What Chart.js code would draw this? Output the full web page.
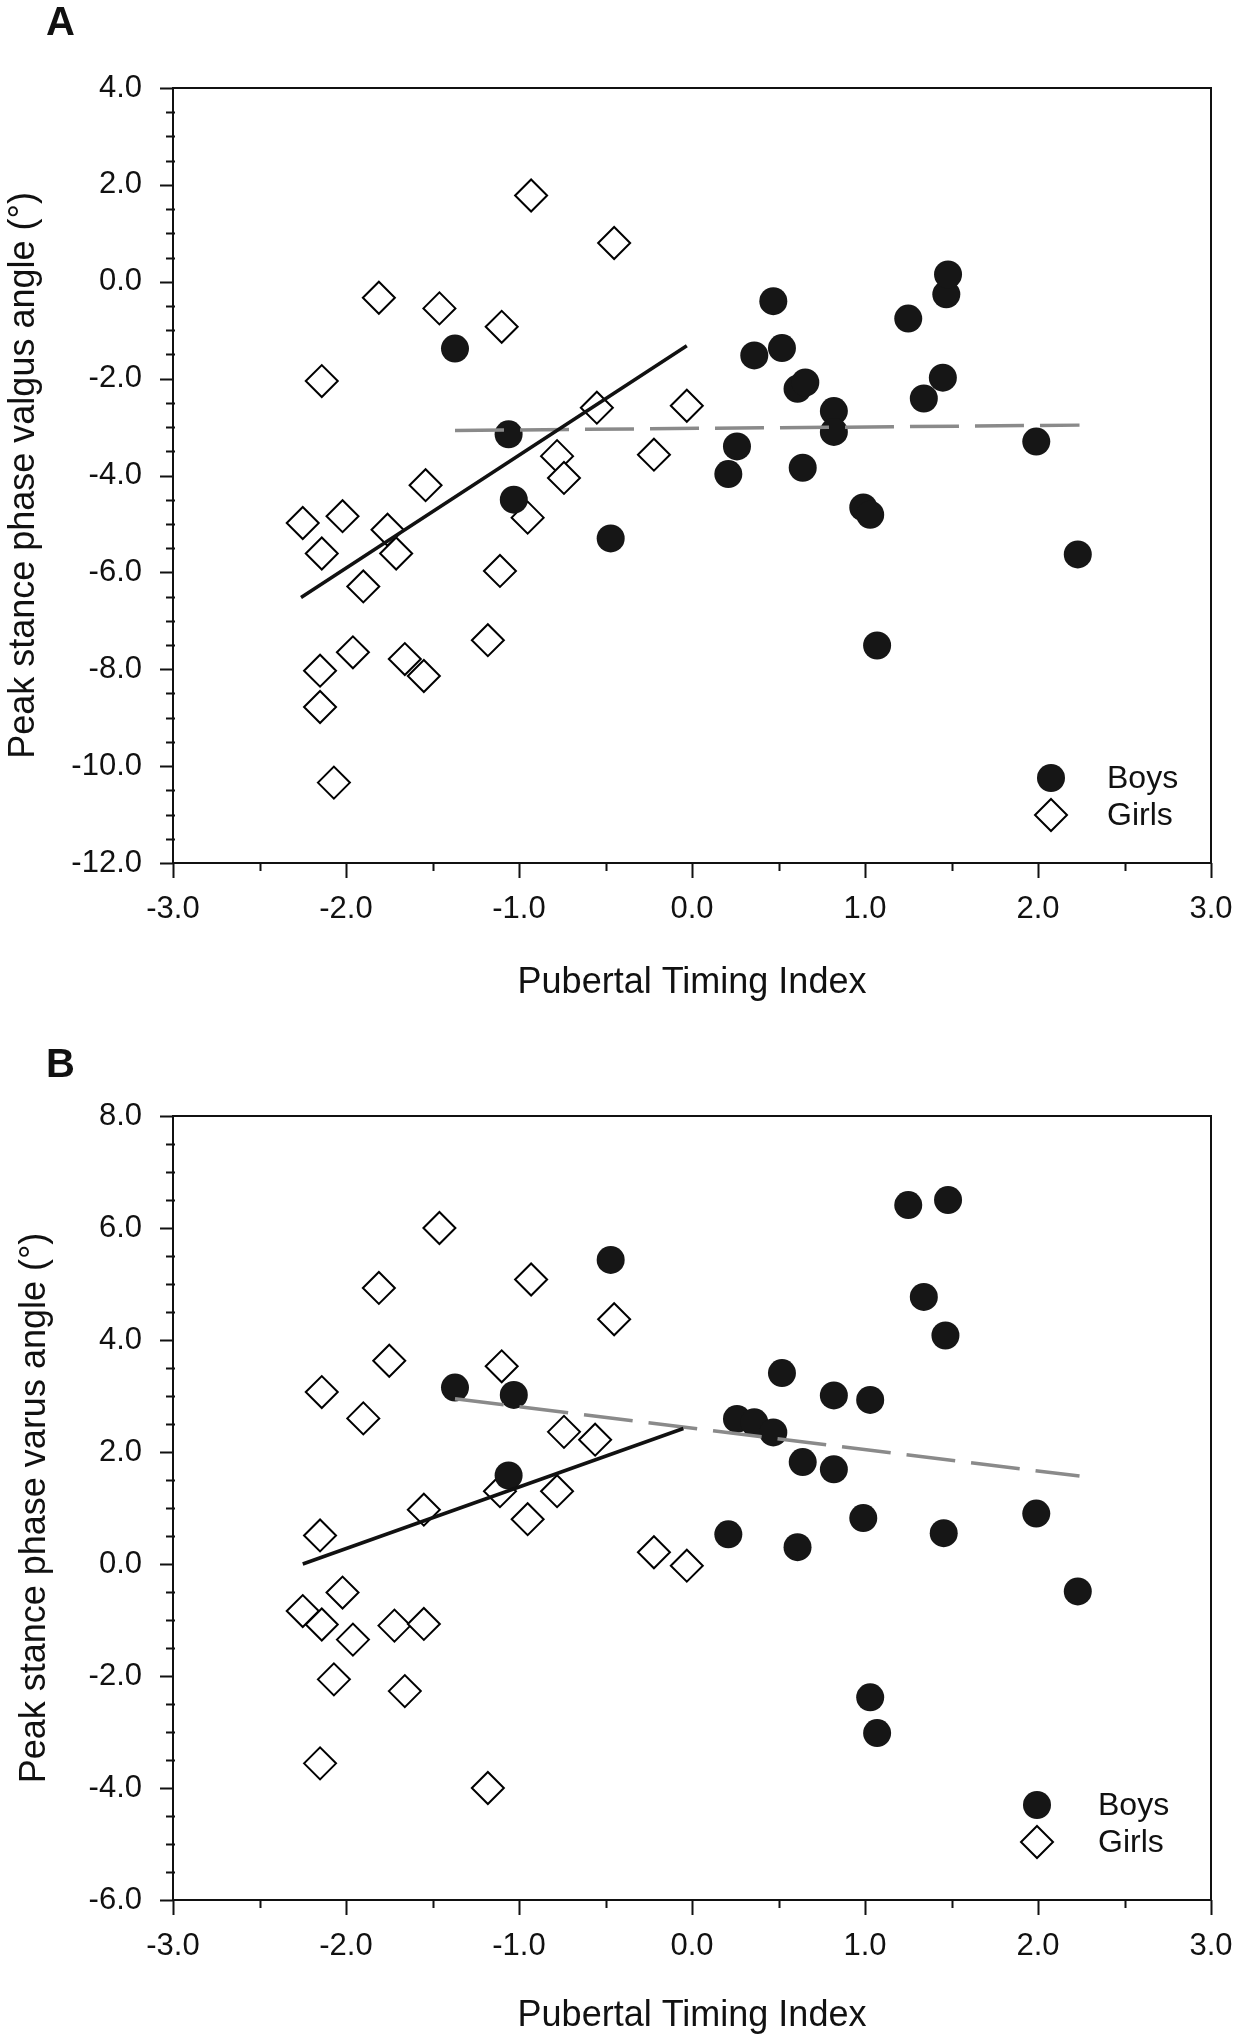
<!DOCTYPE html>
<html>
<head>
<meta charset="utf-8">
<script src="https://cdn.jsdelivr.net/npm/chart.js@4.4.1/dist/chart.umd.min.js"></script>
<style>
  html, body { margin: 0; padding: 0; background: #fff; }
  #wrap { position: relative; width: 1238px; height: 2040px; }
  canvas { position: absolute; left: 0; }
  .panel { position: absolute; font: bold 40px "Liberation Sans", Arial, sans-serif; color: #111; }
</style>
</head>
<body>
<div id="wrap">
  <canvas id="chartA" width="1238" height="1020" style="top:0"></canvas>
  <canvas id="chartB" width="1238" height="1020" style="top:1020px"></canvas>
  <div class="panel" style="left:46px;top:-1px">A</div>
  <div class="panel" style="left:46px;top:1041px">B</div>
</div>
<script>
// Panel A - valgus angle vs pubertal timing index
const boysValgus = [
  {x: -1.37, y: -1.38}, {x: -1.06, y: -3.15}, {x: -1.03, y: -4.50}, {x: -0.47, y: -5.30},
  {x: 0.21, y: -3.97}, {x: 0.26, y: -3.40}, {x: 0.36, y: -1.52}, {x: 0.47, y: -0.40},
  {x: 0.52, y: -1.37}, {x: 0.61, y: -2.21}, {x: 0.655, y: -2.08}, {x: 0.64, y: -3.84},
  {x: 0.82, y: -2.67}, {x: 0.82, y: -3.10}, {x: 0.99, y: -4.66}, {x: 1.03, y: -4.81},
  {x: 1.07, y: -7.51}, {x: 1.25, y: -0.76}, {x: 1.34, y: -2.41}, {x: 1.45, y: -1.98},
  {x: 1.47, y: -0.26}, {x: 1.48, y: 0.15}, {x: 1.99, y: -3.30}, {x: 2.23, y: -5.63}
];
const girlsValgus = [
  {x: -2.25, y: -4.98}, {x: -2.14, y: -2.05}, {x: -2.15, y: -8.03}, {x: -2.15, y: -8.78},
  {x: -2.14, y: -5.61}, {x: -2.07, y: -10.34}, {x: -2.02, y: -4.84}, {x: -1.96, y: -7.65},
  {x: -1.90, y: -6.29}, {x: -1.81, y: -0.33}, {x: -1.76, y: -5.12}, {x: -1.71, y: -5.61},
  {x: -1.66, y: -7.79}, {x: -1.55, y: -8.14}, {x: -1.54, y: -4.20}, {x: -1.46, y: -0.55},
  {x: -1.18, y: -7.40}, {x: -1.11, y: -5.97}, {x: -1.10, y: -0.93}, {x: -0.95, y: -4.87},
  {x: -0.93, y: 1.78}, {x: -0.78, y: -3.60}, {x: -0.74, y: -4.05}, {x: -0.55, y: -2.60},
  {x: -0.45, y: 0.80}, {x: -0.22, y: -3.57}, {x: -0.03, y: -2.56}
];
const girlsFitValgus = [{x: -2.26, y: -6.52}, {x: -0.03, y: -1.32}];
const boysFitValgus = [{x: -1.37, y: -3.07}, {x: 2.24, y: -2.96}];

// Panel B - varus angle vs pubertal timing index
const boysVarus = [
  {x: -1.37, y: 3.15}, {x: -1.06, y: 1.58}, {x: -1.03, y: 3.02}, {x: -0.47, y: 5.43},
  {x: 0.21, y: 0.53}, {x: 0.26, y: 2.59}, {x: 0.36, y: 2.53}, {x: 0.47, y: 2.35},
  {x: 0.52, y: 3.41}, {x: 0.61, y: 0.30}, {x: 0.64, y: 1.82}, {x: 0.82, y: 3.01},
  {x: 0.82, y: 1.69}, {x: 0.99, y: 0.82}, {x: 1.03, y: 2.93}, {x: 1.03, y: -2.38},
  {x: 1.07, y: -3.02}, {x: 1.25, y: 6.41}, {x: 1.34, y: 4.77}, {x: 1.455, y: 0.55},
  {x: 1.465, y: 4.08}, {x: 1.48, y: 6.50}, {x: 1.99, y: 0.90}, {x: 2.23, y: -0.49}
];
const girlsVarus = [
  {x: -2.25, y: -0.84}, {x: -2.14, y: 3.07}, {x: -2.15, y: 0.51}, {x: -2.14, y: -1.08},
  {x: -2.15, y: -3.56}, {x: -2.07, y: -2.06}, {x: -2.02, y: -0.51}, {x: -1.96, y: -1.35},
  {x: -1.90, y: 2.60}, {x: -1.81, y: 4.93}, {x: -1.75, y: 3.63}, {x: -1.72, y: -1.10},
  {x: -1.66, y: -2.27}, {x: -1.55, y: 0.97}, {x: -1.55, y: -1.07}, {x: -1.46, y: 6.00},
  {x: -1.18, y: -4.00}, {x: -1.11, y: 1.30}, {x: -1.10, y: 3.53}, {x: -0.95, y: 0.80},
  {x: -0.93, y: 5.08}, {x: -0.78, y: 1.30}, {x: -0.74, y: 2.36}, {x: -0.56, y: 2.22},
  {x: -0.45, y: 4.37}, {x: -0.22, y: 0.21}, {x: -0.03, y: -0.03}
];
const girlsFitVarus = [{x: -2.25, y: 0.00}, {x: -0.05, y: 2.42}];
const boysFitVarus = [{x: -1.37, y: 2.95}, {x: 2.24, y: 1.57}];

const xRange = [-3, 3];
const yRangeA = [-12, 4];
const yRangeB = [-6, 8];
const legendLabels = ['Boys', 'Girls'];

const FONT = '"Liberation Sans", Arial, sans-serif';
const INK = '#111';
const DOT = '#161616';

// frame, major/minor tick marks and the in-plot legend
const frameTicks = {
  id: 'frameTicks',
  beforeDatasetsDraw(chart, args, opts) {
    const {ctx, chartArea: a, scales: {x, y}} = chart;
    ctx.save();
    ctx.strokeStyle = INK;
    ctx.lineWidth = 2;
    ctx.beginPath();
    ctx.rect(a.left, a.top, a.right - a.left, a.bottom - a.top);
    ctx.stroke();

    ctx.beginPath();
    const ny = Math.round((y.max - y.min) / 0.5);
    for (let i = 0; i <= ny; i++) {
      const v = y.min + i * 0.5;
      const py = Math.round(y.getPixelForValue(v)) + 0.5;
      const major = i % 4 === 0;
      ctx.moveTo(a.left - (major ? 13 : 7), py);
      ctx.lineTo(a.left + (major ? 0 : 2), py);
    }
    const nx = Math.round((x.max - x.min) / 0.5);
    for (let i = 0; i <= nx; i++) {
      const v = x.min + i * 0.5;
      const px = Math.round(x.getPixelForValue(v)) + 0.5;
      const major = i % 2 === 0;
      ctx.moveTo(px, a.bottom);
      ctx.lineTo(px, a.bottom + (major ? 15 : 8));
    }
    ctx.stroke();
    ctx.restore();
  },
  afterDraw(chart, args, opts) {
    const {ctx, chartArea: a} = chart;
    const cx = a.right - opts.dx;
    const y1 = a.bottom - opts.dy;
    const y2 = y1 + 37;
    ctx.save();
    ctx.fillStyle = DOT;
    ctx.beginPath();
    ctx.arc(cx, y1, 14, 0, Math.PI * 2);
    ctx.fill();
    ctx.beginPath();
    ctx.moveTo(cx, y2 - 16);
    ctx.lineTo(cx + 16, y2);
    ctx.lineTo(cx, y2 + 16);
    ctx.lineTo(cx - 16, y2);
    ctx.closePath();
    ctx.fillStyle = '#fff';
    ctx.fill();
    ctx.strokeStyle = '#000';
    ctx.lineWidth = 2;
    ctx.stroke();
    ctx.fillStyle = INK;
    ctx.font = '32px ' + FONT;
    ctx.textAlign = 'left';
    ctx.textBaseline = 'middle';
    ctx.fillText(legendLabels[0], a.right - opts.tx, y1 + 1);
    ctx.fillText(legendLabels[1], a.right - opts.tx, y2 + 1);
    ctx.restore();
  }
};

function makeChart(canvasId, cfg) {
  const ctx = document.getElementById(canvasId).getContext('2d');
  return new Chart(ctx, {
    type: 'scatter',
    data: {
      datasets: [
        {
          data: cfg.girlsFit, showLine: true, pointRadius: 0,
          borderColor: '#111', borderWidth: 3.5, order: 0, clip: false
        },
        {
          data: cfg.boysFit, showLine: true, pointRadius: 0,
          borderColor: '#8a8a8a', borderWidth: 3.5, borderDash: [49, 16], order: 1, clip: false
        },
        {
          label: 'Girls', data: cfg.girls, pointStyle: 'rectRot', pointRadius: 16,
          backgroundColor: '#fff', borderColor: '#000', borderWidth: 2, order: 3, clip: false
        },
        {
          label: 'Boys', data: cfg.boys, pointStyle: 'circle', pointRadius: 14,
          backgroundColor: DOT, borderColor: DOT, borderWidth: 0, order: 2, clip: false
        }
      ]
    },
    options: {
      responsive: false,
      animation: false,
      events: [],
      layout: { padding: { left: 0, right: 27, top: cfg.top, bottom: 0 } },
      plugins: {
        legend: { display: false },
        tooltip: { enabled: false },
        frameTicks: cfg.legend
      },
      scales: {
        x: {
          type: 'linear', min: xRange[0], max: xRange[1],
          afterFit: (s) => { s.height = cfg.xHeight; s.paddingLeft = 0; s.paddingRight = 0; },
          grid: { display: false, drawTicks: false },
          border: { display: false },
          ticks: {
            stepSize: 1, padding: 28, color: INK,
            font: { family: FONT, size: 31 },
            callback: (v) => v.toFixed(1)
          },
          title: {
            display: true, text: 'Pubertal Timing Index', color: INK,
            font: { family: FONT, size: 36 },
            padding: { top: 0, bottom: cfg.xTitlePad }
          }
        },
        y: {
          type: 'linear', min: cfg.yRange[0], max: cfg.yRange[1],
          afterFit: (s) => { s.width = 173; s.paddingTop = 0; s.paddingBottom = 0; },
          grid: { display: false, drawTicks: false },
          border: { display: false },
          ticks: {
            stepSize: 2, padding: 31, color: INK,
            font: { family: FONT, size: 31 },
            callback: (v) => v.toFixed(1)
          },
          title: {
            display: true, text: cfg.yTitle, color: INK,
            font: { family: FONT, size: 36 },
            padding: { top: cfg.yTitlePad, bottom: 0 }
          }
        }
      }
    },
    plugins: [frameTicks]
  });
}

makeChart('chartA', {
  boys: boysValgus, girls: girlsValgus,
  boysFit: boysFitValgus, girlsFit: girlsFitValgus,
  yRange: yRangeA, yTitle: 'Peak stance phase valgus angle (°)',
  top: 88, xHeight: 157, xTitlePad: 15, yTitlePad: 2,
  legend: { dx: 160, dy: 85, tx: 104 }
});

makeChart('chartB', {
  boys: boysVarus, girls: girlsVarus,
  boysFit: boysFitVarus, girlsFit: girlsFitVarus,
  yRange: yRangeB, yTitle: 'Peak stance phase varus angle (°)',
  top: 96, xHeight: 140, xTitlePad: 2, yTitlePad: 13,
  legend: { dx: 174, dy: 95, tx: 113 }
});
</script>
</body>
</html>
